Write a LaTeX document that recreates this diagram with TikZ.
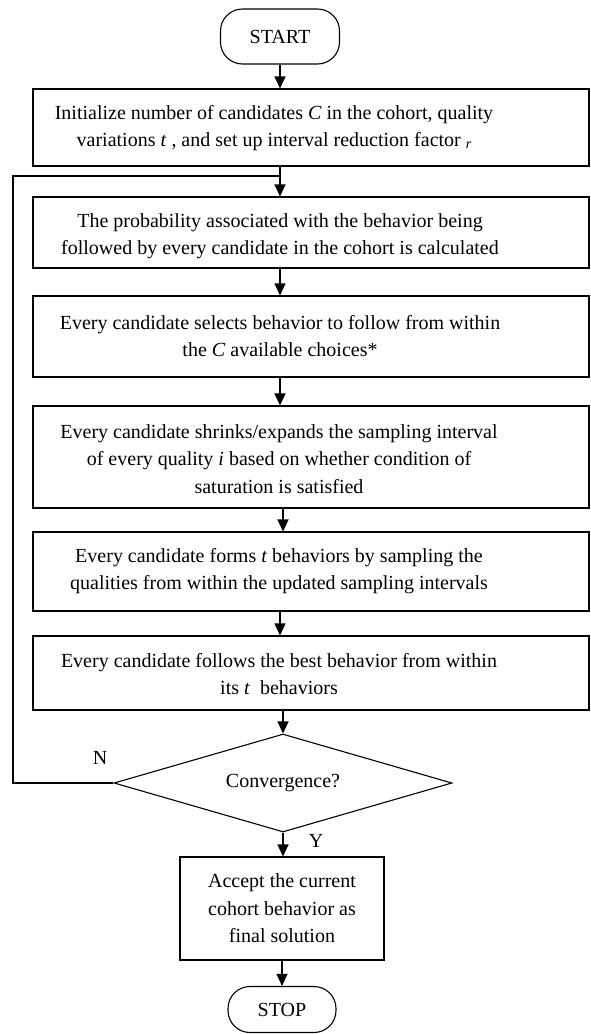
\documentclass[tikz,border=0pt]{standalone}
\usepackage{fontspec}
\setmainfont{Liberation Serif}
\usetikzlibrary{shapes.geometric,arrows.meta,positioning}
\begin{document}
\begin{tikzpicture}[x=1pt,y=-1pt,
  every node/.style={font=\fontsize{20}{27.5}\selectfont},
  proc/.style={draw,line width=1.1pt,inner sep=0pt,minimum width=556pt},
  txt/.style={align=center,inner sep=0pt},
  term/.style={draw,line width=1.1pt,rounded corners=22pt,inner sep=0pt,align=center},
  arr/.style={line width=1.1pt,-{Triangle[width=11pt,length=12pt]}},
  conn/.style={line width=1.1pt}]
\useasboundingbox (0,0) rectangle (590,1034);
\node[term,minimum width=119pt,minimum height=55pt] (start) at (280,36.5) {START};
\node[proc,minimum height=77pt] (b1) at (311,127.5) {};
\node[txt] (t1) at (274,128) {Initialize number of candidates \textit{C} in the cohort, quality\\variations \textit{t} , and set up interval reduction factor {\fontsize{14}{14}\selectfont\raisebox{-2pt}{\textit{r}}}};
\node[proc,minimum height=71pt] (b2) at (311,232.5) {};
\node[txt] (t2) at (280,236) {The probability associated with the behavior being\\followed by every candidate in the cohort is calculated};
\node[proc,minimum height=81pt] (b3) at (311,336.5) {};
\node[txt] (t3) at (280,336) {Every candidate selects behavior to follow from within\\the \textit{C} available choices*};
\node[proc,minimum height=102pt] (b4) at (311,457) {};
\node[txt] (t4) at (279,459) {Every candidate shrinks/expands the sampling interval\\of every quality \textit{i} based on whether condition of\\saturation is satisfied};
\node[proc,minimum height=79pt] (b5) at (311,571.5) {};
\node[txt] (t5) at (279,571) {Every candidate forms \textit{t} behaviors by sampling the\\qualities from within the updated sampling intervals};
\node[proc,minimum height=74pt] (b6) at (311,673) {};
\node[txt] (t6) at (279,674) {Every candidate follows the best behavior from within\\its \textit{t}\ \ behaviors};
\node[draw,line width=1.1pt,diamond,inner sep=0pt,minimum width=338pt,minimum height=98pt,shape aspect=3.45] (dia) at (283,783) {Convergence?};
\node[draw,line width=1.1pt,align=center,inner sep=0pt,minimum width=204pt,minimum height=103pt] (acc) at (282,908.5) {Accept the current\\cohort behavior as\\final solution};
\node[term,minimum width=108pt,minimum height=46pt] (stop) at (282,1009.5) {STOP};
\node (N) at (100,758) {N};
\node (Y) at (316,841) {Y};
\coordinate (j) at (280,176);
\coordinate (L) at (13,176);
\draw[arr] (start.south) -- (start.south |- b1.north);
\draw[arr] (start.south |- b1.south) -- (start.south |- b2.north);
\draw[arr] (start.south |- b2.south) -- (start.south |- b3.north);
\draw[arr] (start.south |- b3.south) -- (start.south |- b4.north);
\draw[arr] (dia.north |- b4.south) -- (dia.north |- b5.north);
\draw[arr] (start.south |- b5.south) -- (start.south |- b6.north);
\draw[arr] (dia.north |- b6.south) -- (dia.north);
\draw[arr] (dia.south) -- (dia.south |- acc.north);
\draw[arr] (acc.south) -- (stop.north);
\draw[conn] (dia.west) -| (L) -- (j);
\end{tikzpicture}
\end{document}
